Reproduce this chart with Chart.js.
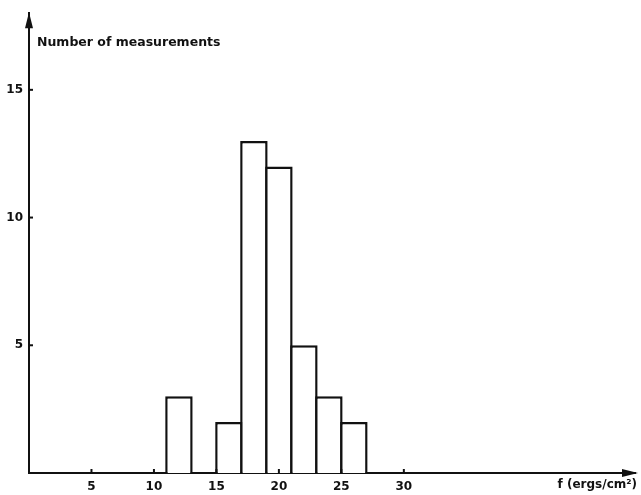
<!DOCTYPE html>
<html>
<head>
<meta charset="utf-8">
<script src="https://cdn.jsdelivr.net/npm/chart.js@4/dist/chart.umd.min.js"></script>
<style>
  body { margin: 0; background: #fff; }
  #wrap { width: 641px; height: 495px; }
</style>
</head>
<body>
<div id="wrap"><canvas id="histChart" width="641" height="495"></canvas></div>
<script>
// Histogram data: bins of width 2 (ergs/cm2)
const binStarts = [11, 15, 17, 19, 21, 23, 25];
const counts = [3, 2, 13, 12, 5, 3, 2];
const binWidth = 2;
const xTicks = [5, 10, 15, 20, 25, 30];
const yTicks = [5, 10, 15];
const yLabel = "Number of measurements";
const xLabel = "f (ergs/cm²)";

const font = "DejaVu Sans";

// Axis arrows, small inner tick marks and the two axis labels
const axisDecor = {
  id: "axisDecor",
  afterDraw(chart) {
    const { ctx, chartArea, scales } = chart;
    const x0 = chartArea.left, y0 = chartArea.bottom;
    ctx.save();
    ctx.fillStyle = "#111";
    ctx.strokeStyle = "#111";
    ctx.lineWidth = 2;

    // arrow on top of y axis
    ctx.beginPath();
    ctx.moveTo(x0, chartArea.top - 1);
    ctx.lineTo(x0 - 4, chartArea.top + 15);
    ctx.lineTo(x0 + 4, chartArea.top + 15);
    ctx.closePath();
    ctx.fill();

    // arrow at right of x axis
    ctx.beginPath();
    ctx.moveTo(chartArea.right + 3, y0);
    ctx.lineTo(chartArea.right - 13, y0 - 4);
    ctx.lineTo(chartArea.right - 13, y0 + 4);
    ctx.closePath();
    ctx.fill();

    // tick marks pointing inwards
    xTicks.forEach((v) => {
      const px = scales.x.getPixelForValue(v);
      ctx.beginPath();
      ctx.moveTo(px, y0);
      ctx.lineTo(px, y0 - 4);
      ctx.stroke();
    });
    yTicks.forEach((v) => {
      const py = scales.y.getPixelForValue(v);
      ctx.beginPath();
      ctx.moveTo(x0, py);
      ctx.lineTo(x0 + 4, py);
      ctx.stroke();
    });

    // labels
    ctx.font = "bold 12.5px '" + font + "'";
    ctx.textAlign = "left";
    ctx.textBaseline = "alphabetic";
    ctx.fillText(yLabel, x0 + 8, chartArea.top + 33);
    ctx.font = "bold 12px '" + font + "'";
    ctx.textAlign = "right";
    ctx.fillText(xLabel, chartArea.right + 2, y0 + 15);
    ctx.restore();
  },
};

const ctx = document.getElementById("histChart").getContext("2d");

new Chart(ctx, {
  type: "bar",
  data: {
    datasets: [
      {
        label: yLabel,
        data: binStarts.map((s, i) => ({ x: s + binWidth / 2, y: counts[i] })),
        backgroundColor: "#fff",
        borderColor: "#111",
        borderWidth: 2.5,
        borderSkipped: "start",
        barPercentage: 1.1,
        categoryPercentage: 1,
      },
    ],
  },
  options: {
    responsive: false,
    animation: false,
    layout: { padding: { top: 9, right: 6, left: 0, bottom: 0 } },
    plugins: {
      legend: { display: false },
      tooltip: { enabled: false },
    },
    scales: {
      x: {
        type: "linear",
        offset: false,
        min: 0,
        max: 48.5,
        grid: { display: false, drawTicks: false, tickLength: 0 },
        border: { display: true, color: "#111", width: 2 },
        afterBuildTicks: (scale) => {
          scale.ticks = xTicks.map((v) => ({ value: v }));
        },
        afterFit: (scale) => {
          scale.height = 22;
        },
        ticks: {
          padding: 7,
          color: "#111",
          font: { family: font, size: 12, weight: "bold" },
        },
      },
      y: {
        min: 0,
        max: 18,
        grid: { display: false, drawTicks: false, tickLength: 0 },
        border: { display: true, color: "#111", width: 2 },
        afterBuildTicks: (scale) => {
          scale.ticks = yTicks.map((v) => ({ value: v }));
        },
        afterFit: (scale) => {
          scale.width = 29;
        },
        ticks: {
          padding: 6,
          color: "#111",
          font: { family: font, size: 12, weight: "bold" },
        },
      },
    },
  },
  plugins: [axisDecor],
});
</script>
</body>
</html>
